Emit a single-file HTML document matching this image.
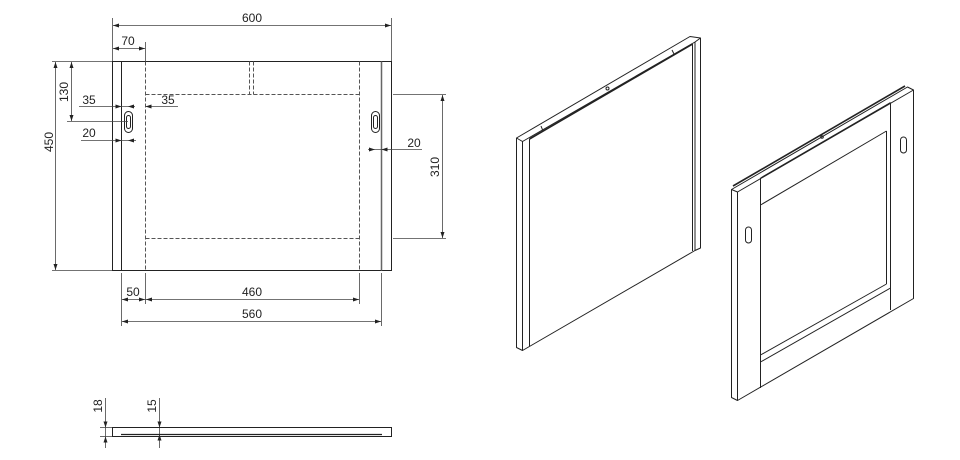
<!DOCTYPE html>
<html><head><style>html,body{margin:0;padding:0;background:#fff}svg{display:block}</style></head><body>
<svg width="960" height="460" viewBox="0 0 960 460" xmlns="http://www.w3.org/2000/svg" font-family="Liberation Sans, sans-serif" font-size="12" fill="#222">
<g stroke="#222" stroke-width="1" fill="none">
<!-- front view -->
<rect x="112.5" y="61.5" width="279" height="209"/>
<line x1="121.5" y1="61.5" x2="121.5" y2="270.5"/>
<line x1="381.5" y1="61.5" x2="381.5" y2="270.5" stroke="#666" stroke-width="1.5"/>
<g stroke-dasharray="4,2" stroke="#555">
<line x1="145.5" y1="61.5" x2="145.5" y2="270.5"/>
<line x1="359.5" y1="61.5" x2="359.5" y2="270.5"/>
<line x1="145.5" y1="94.5" x2="359.5" y2="94.5"/>
<line x1="145.5" y1="238.5" x2="359.5" y2="238.5"/>
<line x1="249.5" y1="61.5" x2="249.5" y2="94.5"/>
<line x1="253.5" y1="61.5" x2="253.5" y2="94.5"/>
</g>
<rect x="124.5" y="111.5" width="8" height="21" rx="4"/>
<rect x="126.5" y="115.5" width="4" height="13" rx="2"/>
<rect x="371.5" y="111.5" width="8" height="21" rx="4"/>
<rect x="373.5" y="115.5" width="4" height="13" rx="2"/>
<g stroke="#444" stroke-width="0.8">
<line x1="112.5" y1="18" x2="112.5" y2="61"/>
<line x1="391.5" y1="18" x2="391.5" y2="61"/>
<line x1="113" y1="25.5" x2="391" y2="25.5"/>
<line x1="145.5" y1="42" x2="145.5" y2="61"/>
<line x1="113" y1="48.5" x2="145" y2="48.5"/>
<line x1="52" y1="61.5" x2="112" y2="61.5"/>
<line x1="52" y1="270.5" x2="112" y2="270.5"/>
<line x1="55.5" y1="62" x2="55.5" y2="270"/>
<line x1="67" y1="121.5" x2="128" y2="121.5"/>
<line x1="71.5" y1="62" x2="71.5" y2="121"/>
<line x1="79" y1="106.5" x2="135" y2="106.5"/>
<line x1="146" y1="106.5" x2="178" y2="106.5"/>
<line x1="81" y1="140.5" x2="136" y2="140.5"/>
<line x1="368" y1="149.5" x2="422" y2="149.5"/>
<line x1="393" y1="94.5" x2="446" y2="94.5"/>
<line x1="393" y1="238.5" x2="446" y2="238.5"/>
<line x1="442.5" y1="95" x2="442.5" y2="238"/>
<line x1="121.5" y1="273" x2="121.5" y2="326"/>
<line x1="145.5" y1="273" x2="145.5" y2="304"/>
<line x1="359.5" y1="273" x2="359.5" y2="304"/>
<line x1="381.5" y1="273" x2="381.5" y2="326"/>
<line x1="122" y1="299.5" x2="359" y2="299.5"/>
<line x1="122" y1="321.5" x2="381" y2="321.5"/>
<line x1="105.5" y1="398" x2="105.5" y2="448"/>
<line x1="159.5" y1="398" x2="159.5" y2="448"/>
<line x1="100" y1="427.5" x2="112" y2="427.5"/>
<line x1="100" y1="436.5" x2="112" y2="436.5"/>
</g>
<rect x="112.5" y="427.5" width="279" height="9"/>
<line x1="121" y1="434.5" x2="382" y2="434.5" stroke-width="1.3"/>

<!-- iso panel 1 -->
<g stroke-linejoin="round">
<path d="M516.5,138 L690,36.5 L700.5,38 L700.5,248 L695,250.5 L522.5,350.5 L516.5,347.5 Z"/>
<path d="M522.5,141.5 L695,42 L695,250.5 M522.5,141.5 L522.5,350.5 M516.5,138 L522.5,141.5 M695,42 L700.5,38"/>
<line x1="529.5" y1="139" x2="529.5" y2="346.5"/>
<line x1="692.5" y1="44" x2="692.5" y2="251"/>
<line x1="529.5" y1="139" x2="692.5" y2="44" stroke-width="1.6"/>
<line x1="541" y1="126" x2="543" y2="131"/>
<line x1="672" y1="50" x2="674" y2="54"/>
<circle cx="607.5" cy="88.5" r="1.5"/>
</g>
<!-- iso panel 2 -->
<g stroke-linejoin="round">
<path d="M731.5,189.5 L907.5,87 L913.5,90 L913.5,298.5 L737.5,400.5 L731.5,397.5 Z"/>
<path d="M737.5,192 L913.5,90 M737.5,192 L737.5,400.5 M731.5,189.5 L737.5,192"/>
<line x1="733" y1="186" x2="905" y2="86" stroke-width="1.6"/>
<line x1="760.5" y1="178" x2="760.5" y2="388"/>
<line x1="890.5" y1="102.5" x2="890.5" y2="310"/>
<line x1="760.5" y1="178" x2="890.5" y2="102.5"/>
<line x1="760.5" y1="205" x2="886.5" y2="131"/>
<line x1="886.5" y1="131" x2="886.5" y2="284"/>
<line x1="760.5" y1="355" x2="886.5" y2="284"/>
<line x1="760.5" y1="362" x2="890.5" y2="288"/>
<rect x="745.5" y="227" width="6" height="16" rx="3"/>
<rect x="900.5" y="137" width="6" height="16" rx="3"/>
<circle cx="822" cy="137" r="1.3"/>
</g>
</g>
<!-- arrowheads -->
<g fill="#222" stroke="none">
<polygon points="119,23.5 113,25.5 119,27.5"/><polygon points="385,23.5 391,25.5 385,27.5"/>
<polygon points="119,46.5 113,48.5 119,50.5"/><polygon points="139,46.5 145,48.5 139,50.5"/>
<polygon points="53.5,68 55.5,62 57.5,68"/><polygon points="53.5,264 55.5,270 57.5,264"/>
<polygon points="69.5,68 71.5,62 73.5,68"/><polygon points="69.5,115 71.5,121 73.5,115"/>
<polygon points="115.5,104.5 121.5,106.5 115.5,108.5"/><polygon points="134,104.5 128,106.5 134,108.5"/><polygon points="151.5,104.5 145.5,106.5 151.5,108.5"/>
<polygon points="115.5,138.5 121.5,140.5 115.5,142.5"/><polygon points="134,138.5 128,140.5 134,142.5"/>
<polygon points="369,147.5 375,149.5 369,151.5"/><polygon points="387.5,147.5 381.5,149.5 387.5,151.5"/>
<polygon points="440.5,101 442.5,95 444.5,101"/><polygon points="440.5,232 442.5,238 444.5,232"/>
<polygon points="128,297.5 122,299.5 128,301.5"/><polygon points="139,297.5 145,299.5 139,301.5"/>
<polygon points="152,297.5 146,299.5 152,301.5"/><polygon points="353,297.5 359,299.5 353,301.5"/>
<polygon points="128,319.5 122,321.5 128,323.5"/><polygon points="375,319.5 381,321.5 375,323.5"/>
<polygon points="103.5,421.5 105.5,427.5 107.5,421.5"/><polygon points="103.5,442.5 105.5,436.5 107.5,442.5"/>
<polygon points="157.5,421.5 159.5,427.5 161.5,421.5"/><polygon points="157.5,440.5 159.5,434.5 161.5,440.5"/>
</g>
<!-- labels -->
<g text-anchor="middle">
<text x="252" y="22">600</text>
<text x="128" y="45">70</text>
<text x="89" y="104">35</text>
<text x="168" y="104">35</text>
<text x="89" y="137">20</text>
<text x="414" y="147">20</text>
<text x="133" y="296">50</text>
<text x="252" y="296">460</text>
<text x="252" y="318">560</text>
<text transform="translate(53,142) rotate(-90)">450</text>
<text transform="translate(68,92) rotate(-90)">130</text>
<text transform="translate(439,167) rotate(-90)">310</text>
<text transform="translate(102,406) rotate(-90)">18</text>
<text transform="translate(156,406) rotate(-90)">15</text>
</g>
</svg>
</body></html>
